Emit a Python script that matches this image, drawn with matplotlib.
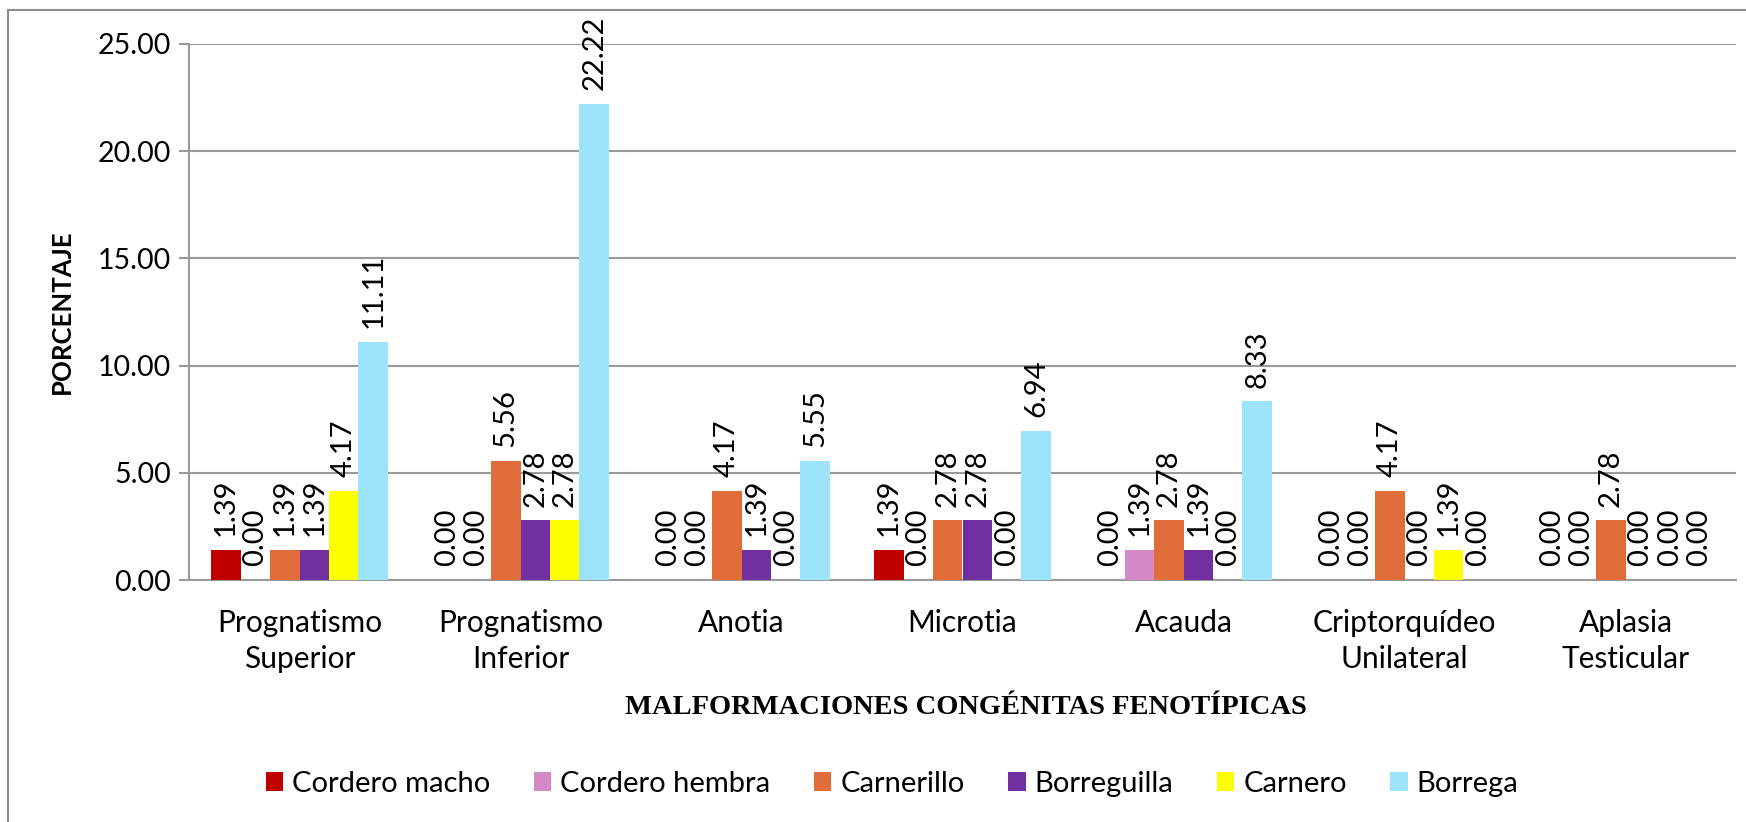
import matplotlib
matplotlib.use("Agg")
import matplotlib.pyplot as plt
from matplotlib.patches import Rectangle
import numpy as np

# categories and series
categories = ["Prognatismo\nSuperior", "Prognatismo\nInferior", "Anotia", "Microtia",
              "Acauda", "Criptorquídeo\nUnilateral", "Aplasia\nTesticular"]
series_names = ["Cordero macho", "Cordero hembra", "Carnerillo", "Borreguilla",
                "Carnero", "Borrega"]
cordero_macho = [1.39, 0.00, 0.00, 1.39, 0.00, 0.00, 0.00]
cordero_hembra = [0.00, 0.00, 0.00, 0.00, 1.39, 0.00, 0.00]
carnerillo = [1.39, 5.56, 4.17, 2.78, 2.78, 4.17, 2.78]
borreguilla = [1.39, 2.78, 1.39, 2.78, 1.39, 0.00, 0.00]
carnero = [4.17, 2.78, 0.00, 0.00, 0.00, 1.39, 0.00]
borrega = [11.11, 22.22, 5.55, 6.94, 8.33, 0.00, 0.00]
series_values = [cordero_macho, cordero_hembra, carnerillo, borreguilla, carnero, borrega]
colors = ["#C00000", "#D58AC8", "#E06C39", "#7030A0", "#FFFF00", "#9BE4FB"]
yticks = [0, 5, 10, 15, 20, 25]

FONT = ["Lato", "DejaVu Sans"]
GRID = "#9a9a9a"
plt.rcParams["font.family"] = FONT

W, H = 1746, 822
fig = plt.figure(figsize=(W / 100, H / 100), dpi=100)
ax = fig.add_axes([189 / W, 1 - 580 / H, (1736 - 189) / W, (580 - 44) / H])

x = np.arange(len(categories))
n = len(series_names)
bw = 1 / (n + 1.5)
for i, (name, vals, c) in enumerate(zip(series_names, series_values, colors)):
    pos = x + (i - (n - 1) / 2) * bw
    ax.bar(pos, vals, width=bw, color=c, label=name, zorder=3)
    for px, v in zip(pos, vals):
        ax.annotate(f"{v:.2f}", (px, v), xytext=(0, 10), textcoords="offset points",
                    rotation=90, ha="center", va="bottom", fontsize=21, zorder=4)

ax.set_xlim(-0.5, len(categories) - 0.5)
ax.set_ylim(0, 25)
ax.set_yticks(yticks)
ax.set_yticklabels([f"{t:.2f}" for t in yticks], fontsize=20.5)
ax.set_xticks(x)
ax.set_xticklabels(categories, fontsize=21.5, linespacing=1.32)
ax.tick_params(axis="x", length=0, pad=21)
ax.tick_params(axis="y", length=7, width=1.5, color=GRID, pad=6)
ax.grid(axis="y", color=GRID, lw=1.5, zorder=0)
for s in ["top", "right"]:
    ax.spines[s].set_visible(False)
for s in ["left", "bottom"]:
    ax.spines[s].set_color(GRID)
    ax.spines[s].set_linewidth(1.5)

fig.text(62 / W, 1 - 312 / H, "PORCENTAJE", rotation=90, ha="center", va="center",
         fontsize=18.5, fontweight="bold")
fig.text(966 / W, 1 - 707 / H, "MALFORMACIONES CONGÉNITAS FENOTÍPICAS",
         ha="center", va="center", fontsize=20.5, fontweight="bold",
         family=["Liberation Serif", "DejaVu Serif"])

fig.legend(loc="center", bbox_to_anchor=(892 / W, 1 - 784 / H), ncol=n, frameon=False,
           fontsize=21, handlelength=0.6, handleheight=0.6, handletextpad=0.3,
           columnspacing=1.5)

# outer chart frame, cut off at the right and bottom
fig.add_artist(Rectangle((7.5 / W, -0.1), 2, 1 - 10 / H + 0.1, transform=fig.transFigure,
                         fill=False, edgecolor="#8c8c8c", lw=1.5))

plt.savefig("out.png", dpi=100)
